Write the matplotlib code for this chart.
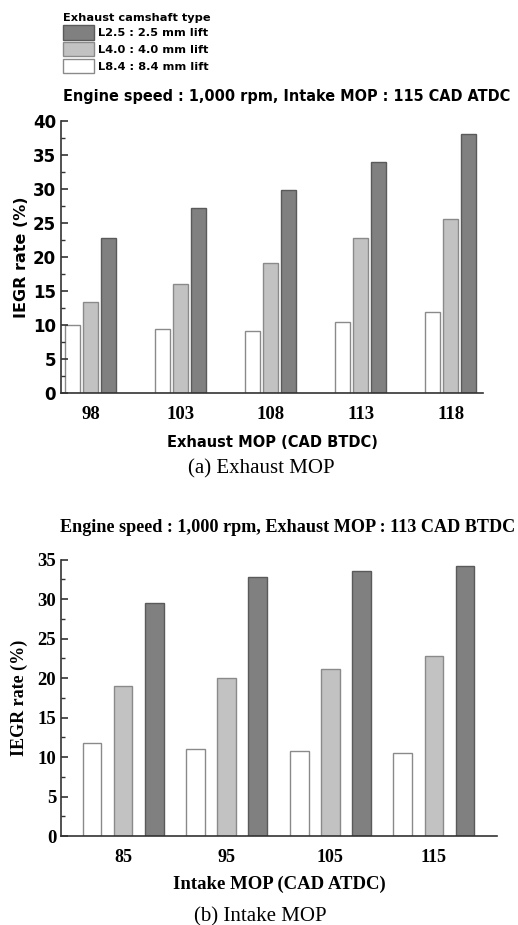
import numpy as np
import matplotlib
matplotlib.use("Agg")
import matplotlib.pyplot as plt
from matplotlib.patches import Patch
from matplotlib.ticker import MultipleLocator

# (a) exhaust MOP sweep
exh_mop = ["98", "103", "108", "113", "118"]
exh_l84 = [10.0, 9.5, 9.2, 10.5, 12.0]
exh_l40 = [13.4, 16.1, 19.2, 22.8, 25.6]
exh_l25 = [22.9, 27.3, 29.9, 34.0, 38.2]

# (b) intake MOP sweep
int_mop = ["85", "95", "105", "115"]
int_l84 = [11.8, 11.0, 10.7, 10.5]
int_l40 = [19.0, 20.0, 21.1, 22.8]
int_l25 = [29.5, 32.8, 33.5, 34.2]

labels = ["L2.5 : 2.5 mm lift", "L4.0 : 4.0 mm lift", "L8.4 : 8.4 mm lift"]
faces = ["#808080", "#c2c2c2", "#ffffff"]
edges = ["#5a5a5a", "#8a8a8a", "#8a8a8a"]

SANS = "DejaVu Sans"
SERIF = "Liberation Serif"

fig = plt.figure(figsize=(5.18, 9.25), dpi=100)


def _bars(ax, series, width, step):
    x = np.arange(len(series[0]))
    # order left->right: L8.4, L4.0, L2.5
    for i, (vals, fc, ec) in enumerate(zip(series, faces[::-1], edges[::-1])):
        ax.bar(x + (i - 1) * step, vals, width, color=fc, edgecolor=ec, linewidth=1.0)
    return x


def _style(ax, ymax, font, ysize, xsize):
    ax.spines["top"].set_visible(False)
    ax.spines["right"].set_visible(False)
    for s in ("left", "bottom"):
        ax.spines[s].set_linewidth(1.2)
        ax.spines[s].set_color("#333333")
    ax.set_ylim(0, ymax)
    ax.yaxis.set_major_locator(MultipleLocator(5))
    ax.yaxis.set_minor_locator(MultipleLocator(2.5))
    ax.tick_params(axis="y", which="major", direction="in", length=5, width=1.2, color="#333333")
    ax.tick_params(axis="y", which="minor", direction="in", length=3, width=1.0, color="#333333")
    ax.tick_params(axis="x", length=0, pad=9)
    for t in ax.get_yticklabels():
        t.set_fontfamily(font)
        t.set_fontweight("bold")
        t.set_fontsize(ysize)
    for t in ax.get_xticklabels():
        t.set_fontfamily(SERIF)
        t.set_fontweight("bold")
        t.set_fontsize(xsize)


# top panel
ax1 = fig.add_axes([0.1178, 0.5748, 0.8147, 0.2941])
x1 = _bars(ax1, [exh_l84, exh_l40, exh_l25], 0.167, 0.2)
ax1.set_xlim(-0.333, 4.36)
ax1.set_xticks(x1)
ax1.set_xticklabels(exh_mop)
_style(ax1, 40, SANS, 12, 13.5)
ax1.set_ylabel("IEGR rate (%)", fontfamily=SANS, fontweight="bold", fontsize=11.5, labelpad=3)
ax1.set_xlabel("Exhaust MOP (CAD BTDC)", fontfamily=SANS, fontweight="bold", fontsize=10.5, labelpad=9)
fig.text(287 / 518, 1 - 97 / 925, "Engine speed : 1,000 rpm, Intake MOP : 115 CAD ATDC",
         ha="center", va="center", fontfamily=SANS, fontweight="bold", fontsize=10.45)

handles = [Patch(facecolor=f, edgecolor=e, linewidth=1.0) for f, e in zip(faces, edges)]
leg = fig.legend(handles, labels, title="Exhaust camshaft type", loc="upper left",
                 bbox_to_anchor=(0.115, 0.990), frameon=False, handlelength=2.7,
                 handleheight=1.55, handletextpad=0.4, labelspacing=0.22,
                 borderaxespad=0.0, borderpad=0.3,
                 prop={"family": SANS, "weight": "bold", "size": 8.2},
                 title_fontproperties={"family": SANS, "weight": "bold", "size": 8.2})
leg._legend_box.align = "left"
leg._legend_box.sep = 2

fig.text(261 / 518, 1 - 469 / 925, "(a) Exhaust MOP", ha="center", va="center",
         fontfamily=SERIF, fontsize=15)

# bottom panel
ax2 = fig.add_axes([0.1178, 0.0962, 0.8417, 0.2989])
x2 = _bars(ax2, [int_l84, int_l40, int_l25], 0.18, 0.30)
ax2.set_xlim(-0.60, 3.61)
ax2.set_xticks(x2)
ax2.set_xticklabels(int_mop)
_style(ax2, 35, SERIF, 13.5, 13)
ax2.set_ylabel("IEGR rate (%)", fontfamily=SERIF, fontweight="bold", fontsize=13, labelpad=7)
ax2.set_xlabel("Intake MOP (CAD ATDC)", fontfamily=SERIF, fontweight="bold", fontsize=13.5, labelpad=7)
fig.text(288 / 518, 1 - 528 / 925, "Engine speed : 1,000 rpm, Exhaust MOP : 113 CAD BTDC",
         ha="center", va="center", fontfamily=SERIF, fontweight="bold", fontsize=13.1)
fig.text(260 / 518, 1 - 917 / 925, "(b) Intake MOP", ha="center", va="center",
         fontfamily=SERIF, fontsize=15)

fig.savefig("out.png", dpi=100)
